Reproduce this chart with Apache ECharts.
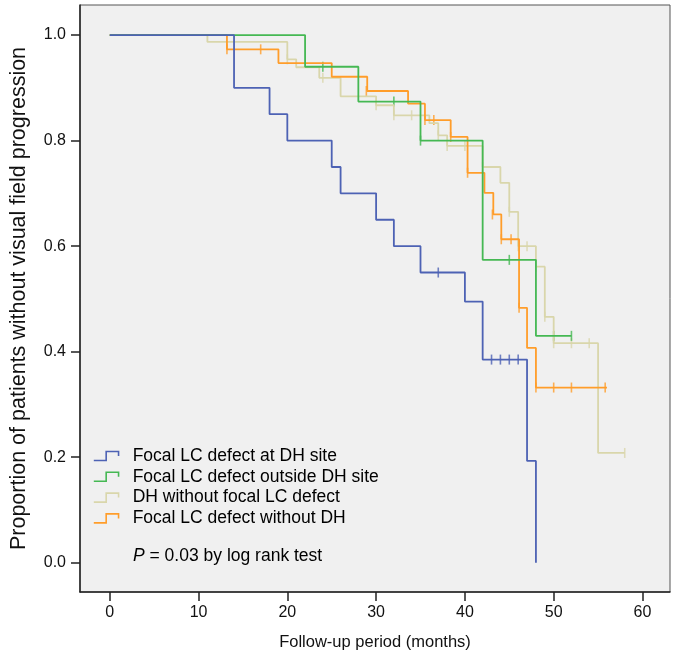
<!DOCTYPE html>
<html>
<head>
<meta charset="utf-8">
<script src="https://cdn.jsdelivr.net/npm/echarts@6/dist/echarts.min.js"></script>
<style>
html,body{margin:0;padding:0;background:#fff;}
#chart{width:675px;height:659px;}
</style>
</head>
<body>
<div id="chart"></div>
<script>
// ---- Data ----
var seriesNames = [
  'Focal LC defect at DH site',
  'Focal LC defect outside DH site',
  'DH without focal LC defect',
  'Focal LC defect without DH'
];
var xTicks = [0, 10, 20, 30, 40, 50, 60];
var yTicks = [0, 0.2, 0.4, 0.6, 0.8, 1.0];

// Blue: Focal LC defect at DH site
var blueTime = [0, 14, 18, 20, 25, 26, 30, 32, 35, 40, 42, 47, 48];
var blueSurv = [1, 0.90, 0.85, 0.80, 0.75, 0.70, 0.65, 0.60, 0.55, 0.495, 0.385, 0.193, 0];
var blueCensT = [37, 43, 44, 45, 46];
var blueCensS = [0.55, 0.385, 0.385, 0.385, 0.385];

// Green: Focal LC defect outside DH site
var greenTime = [0, 22, 28, 35, 42, 48, 52];
var greenSurv = [1, 0.94, 0.874, 0.80, 0.574, 0.43, 0.43];
var greenCensT = [24, 32, 35, 45, 50, 52];
var greenCensS = [0.94, 0.874, 0.80, 0.574, 0.43, 0.43];

// Khaki: DH without focal LC defect
var khakiTime = [0, 11, 20, 21, 23.6, 26, 30, 32, 36, 37, 38, 42, 44, 45, 46, 48, 49, 50, 55, 58];
var khakiSurv = [1, 0.987, 0.954, 0.939, 0.919, 0.884, 0.867, 0.848, 0.833, 0.81, 0.79, 0.75, 0.72, 0.665, 0.60, 0.561, 0.466, 0.416, 0.208, 0.208];
var khakiCensT = [20, 24, 30, 32, 34, 37, 38, 40, 42, 45, 46, 47, 48, 49, 50, 52, 54, 58];
var khakiCensS = [0.954, 0.919, 0.867, 0.848, 0.848, 0.81, 0.79, 0.79, 0.75, 0.665, 0.60, 0.60, 0.561, 0.466, 0.416, 0.416, 0.416, 0.208];

// Orange: Focal LC defect without DH
var orangeTime = [0, 13.2, 19, 25, 29, 33.6, 35.5, 38.4, 40.3, 42.2, 43.2, 44.1, 46.1, 47, 48, 56];
var orangeSurv = [1, 0.973, 0.947, 0.921, 0.894, 0.87, 0.839, 0.807, 0.739, 0.701, 0.66, 0.613, 0.483, 0.407, 0.332, 0.332];
var orangeCensT = [13.2, 17, 28.9, 35.5, 36.5, 38.4, 40.3, 43.1, 44.1, 45.2, 46.1, 48, 50, 52, 55.8];
var orangeCensS = [0.973, 0.973, 0.894, 0.839, 0.839, 0.807, 0.739, 0.66, 0.613, 0.613, 0.483, 0.332, 0.332, 0.332, 0.332];

var colors = ['#4d62b4', '#45b853', '#d9d6ab', '#ff9d2a'];

// ---- Build chart ----
function zip(a, b) { return a.map(function (v, i) { return [v, b[i]]; }); }
var groups = [
  [blueTime, blueSurv, blueCensT, blueCensS],
  [greenTime, greenSurv, greenCensT, greenCensS],
  [khakiTime, khakiSurv, khakiCensT, khakiCensS],
  [orangeTime, orangeSurv, orangeCensT, orangeCensS]
];
var drawOrder = [2, 3, 1, 0];
var series = [];
drawOrder.forEach(function (gi) {
  var g = groups[gi];
  series.push({
    name: seriesNames[gi], type: 'line', step: 'end', data: zip(g[0], g[1]),
    showSymbol: false, symbol: 'none', silent: true, animation: false,
    lineStyle: { color: colors[gi], width: 1.8 },
    itemStyle: { color: colors[gi] }
  });
  series.push({
    name: seriesNames[gi], type: 'scatter', data: zip(g[2], g[3]),
    symbol: 'rect', symbolSize: [1.6, 10], silent: true, animation: false,
    itemStyle: { color: colors[gi] }
  });
});

var font = 'Liberation Sans, Arial, sans-serif';
var stepIcon = 'path://M0,9 L11,9 L11,1 L22,1 L22,5';

var option = {
  animation: false,
  backgroundColor: '#ffffff',
  grid: { left: 75, right: 5, top: 5, bottom: 67, show: true,
          backgroundColor: '#f0f0f0', borderColor: '#555', borderWidth: 1 },
  xAxis: {
    type: 'value', min: -3.35, max: 63.1,
    name: 'Follow-up period (months)', nameLocation: 'middle', nameGap: 42,
    nameTextStyle: { fontFamily: font, fontSize: 16.5, color: '#111' },
    axisLine: { show: true, onZero: false, lineStyle: { color: '#222', width: 1.5 } },
    axisTick: { show: true, length: 9, customValues: xTicks, lineStyle: { color: '#222', width: 1.5 } },
    axisLabel: { customValues: xTicks, fontFamily: font, fontSize: 16, color: '#111', margin: 13 },
    splitLine: { show: false }
  },
  yAxis: {
    type: 'value', min: -0.0555, max: 1.057,
    name: 'Proportion of patients without visual field progression', nameLocation: 'middle', nameGap: 50,
    nameTextStyle: { fontFamily: font, fontSize: 21.5, color: '#111' },
    axisLine: { show: true, onZero: false, lineStyle: { color: '#222', width: 1.5 } },
    axisTick: { show: true, length: 9, customValues: yTicks, lineStyle: { color: '#222', width: 1.5 } },
    axisLabel: { customValues: yTicks, fontFamily: font, fontSize: 16, color: '#111', margin: 14,
                 formatter: function (v) { return v.toFixed(1); } },
    splitLine: { show: false }
  },
  legend: {
    orient: 'vertical', left: 88, top: 441, itemWidth: 29, itemHeight: 9, itemGap: 0.8,
    textStyle: { fontFamily: font, fontSize: 17.5, color: '#000', lineHeight: 20, padding: [0, 0, 0, 7] },
    data: seriesNames.map(function (n, i) {
      return { name: n, icon: stepIcon,
               itemStyle: { color: 'transparent', borderColor: colors[i], borderWidth: 1.6 } };
    })
  },
  title: {
    left: 133, top: 547, padding: 0,
    text: '{i|P} = 0.03 by log rank test',
    textStyle: { fontFamily: font, fontSize: 17.5, fontWeight: 'normal', color: '#000',
                 rich: { i: { fontFamily: font, fontSize: 17.5, fontStyle: 'italic', color: '#000' } } }
  },
  series: series
};
var chart = echarts.init(document.getElementById('chart'), null, { renderer: 'canvas' });
chart.setOption(option);
</script>
</body>
</html>
